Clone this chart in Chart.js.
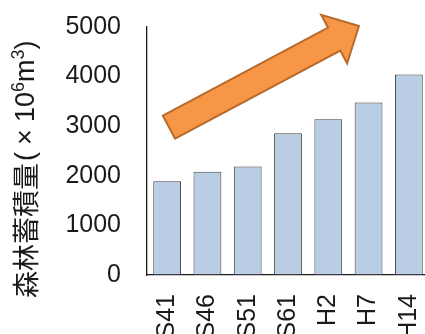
<!DOCTYPE html>
<html>
<head>
<meta charset="utf-8">
<script src="https://cdn.jsdelivr.net/npm/chart.js@4/dist/chart.umd.min.js"></script>
<style>
  html, body { margin: 0; padding: 0; overflow: hidden; background: #ffffff; }
  #wrap { width: 429px; height: 334px; }
</style>
</head>
<body>
<div id="wrap"><canvas id="c" width="429" height="334"></canvas></div>
<script>
// 調査年 (昭和/平成)
const years = ['S41', 'S46', 'S51', 'S61', 'H2', 'H7', 'H14'];
// 森林蓄積量 (百万m3)
const stock = [1890, 2080, 2190, 2860, 3140, 3480, 4040];
// 縦軸の目盛
const yTicks = [0, 1000, 2000, 3000, 4000, 5000];

// 縦軸タイトル: 森林蓄積量(×10⁶m³) を文字の組ごとに描く
const titleParts = [
  { text: '森林蓄積量', kind: 'cjk' },
  { text: '(', kind: 'latin' },
  { text: '×', kind: 'wide' },
  { text: '10', kind: 'latin' },
  { text: '6', kind: 'sup' },
  { text: 'm', kind: 'latin' },
  { text: '3', kind: 'sup' },
  { text: ')', kind: 'latin' }
];

// 増加傾向を示す矢印 (カテゴリ位置, 値)
const trendFrom = { x: 0.045, y: 2980 };
const trendTo = { x: 4.76, y: 5020 };

const latinFamily = '"Liberation Sans", Arial, sans-serif';
const tickFont = { family: latinFamily, size: 25 };

const trendArrow = {
  id: 'trendArrow',
  afterDatasetsDraw(chart) {
    const { ctx, scales: { x, y } } = chart;
    const x0 = x.getPixelForValue(trendFrom.x), y0 = y.getPixelForValue(trendFrom.y);
    const x1 = x.getPixelForValue(trendTo.x), y1 = y.getPixelForValue(trendTo.y);
    const dx = x1 - x0, dy = y1 - y0, len = Math.hypot(dx, dy);
    const ux = dx / len, uy = dy / len, nx = -uy, ny = ux;
    const shaft = 13, head = 27.5, headLen = 28;
    const bx = x1 - ux * headLen, by = y1 - uy * headLen;
    ctx.save();
    ctx.beginPath();
    ctx.moveTo(x0 + nx * shaft, y0 + ny * shaft);
    ctx.lineTo(bx + nx * shaft, by + ny * shaft);
    ctx.lineTo(bx + nx * head, by + ny * head);
    ctx.lineTo(x1, y1);
    ctx.lineTo(bx - nx * head, by - ny * head);
    ctx.lineTo(bx - nx * shaft, by - ny * shaft);
    ctx.lineTo(x0 - nx * shaft, y0 - ny * shaft);
    ctx.closePath();
    ctx.fillStyle = '#f79646';
    ctx.fill();
    ctx.lineWidth = 2;
    ctx.lineJoin = 'miter';
    ctx.strokeStyle = '#b66a2c';
    ctx.stroke();
    ctx.restore();
  }
};

const sideTitle = {
  id: 'sideTitle',
  afterDraw(chart) {
    const { ctx, chartArea, scales: { y } } = chart;
    ctx.save();
    // 文字の並びは下から上へ
    ctx.translate(y.left + 34, chartArea.bottom + 23);
    ctx.rotate(-Math.PI / 2);
    ctx.fillStyle = '#1a1a1a';
    ctx.textAlign = 'left';
    ctx.textBaseline = 'alphabetic';
    let pos = 0;
    for (const p of titleParts) {
      if (p.kind === 'cjk') {
        ctx.font = '27px "Noto Sans CJK JP", sans-serif';
        ctx.fillText(p.text, pos, 2);
        pos += ctx.measureText(p.text).width + 2;
      } else if (p.kind === 'wide') {
        ctx.font = '27px ' + latinFamily;
        const w = ctx.measureText(p.text).width;
        const slot = 30;
        ctx.fillText(p.text, pos + (slot - w) / 2, 0);
        pos += slot;
      } else if (p.kind === 'sup') {
        ctx.font = '18px ' + latinFamily;
        ctx.fillText(p.text, pos, -10);
        pos += ctx.measureText(p.text).width;
      } else {
        ctx.font = '27px ' + latinFamily;
        ctx.fillText(p.text, pos, 0);
        pos += ctx.measureText(p.text).width;
      }
    }
    ctx.restore();
  }
};

new Chart(document.getElementById('c'), {
  type: 'bar',
  data: {
    labels: years,
    datasets: [{
      data: stock,
      backgroundColor: '#b9cde5',
      borderColor: '#3f3f3f',
      borderWidth: 1,
      borderSkipped: false,
      barPercentage: 0.69,
      categoryPercentage: 1
    }]
  },
  options: {
    responsive: false,
    animation: false,
    devicePixelRatio: 1,
    layout: { padding: { top: 27, left: 0, right: 0, bottom: 0 } },
    plugins: { legend: { display: false }, tooltip: { enabled: false } },
    scales: {
      x: {
        grid: { display: false, drawTicks: false },
        border: { display: true, color: '#1a1a1a', width: 1.3 },
        ticks: {
          font: tickFont, color: '#1a1a1a', padding: 19,
          minRotation: 90, maxRotation: 90, autoSkip: false
        },
        afterFit(s) { s.height = 59; s.paddingLeft = 0; s.paddingRight = 0; }
      },
      y: {
        min: 0, max: 5000,
        grid: { display: false, drawTicks: false },
        border: { display: true, color: '#1a1a1a', width: 1.3 },
        afterBuildTicks(s) { s.ticks = yTicks.map(v => ({ value: v })); },
        ticks: {
          font: tickFont, color: '#1a1a1a', padding: 26,
          callback: v => String(v)
        },
        afterFit(s) { s.width = 147; s.paddingTop = 0; s.paddingBottom = 0; }
      }
    }
  },
  plugins: [trendArrow, sideTitle]
});
</script>
</body>
</html>
